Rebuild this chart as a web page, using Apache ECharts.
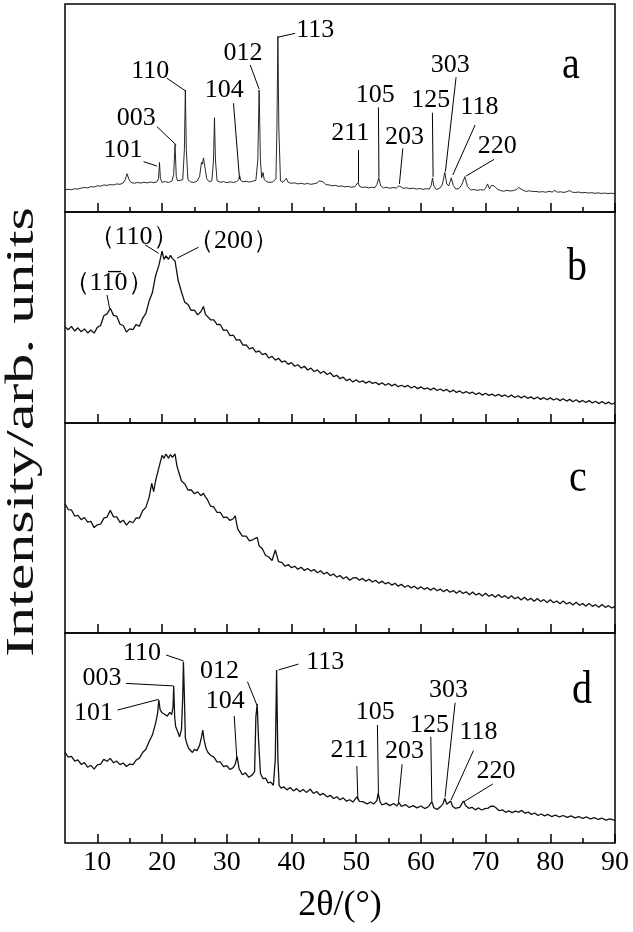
<!DOCTYPE html>
<html>
<head>
<meta charset="utf-8">
<script src="https://cdn.jsdelivr.net/npm/echarts@6/dist/echarts.min.js"></script>
<style>
html, body { margin: 0; padding: 0; background: #fff; }
#main { width: 633px; height: 932px; }
</style>
</head>
<body>
<div id="main"></div>
<script>
// x axis ticks
var xTicks = [10, 20, 30, 40, 50, 60, 70, 80, 90];
var xMinorTicks = [15, 25, 35, 45, 55, 65, 75, 85];
var panelLetters = ['a', 'b', 'c', 'd'];

// patterns, [2theta, intensity % of panel height]
var curveA = [[5,10.6],[5.5,10.9],[6,10.7],[6.5,11.2],[7,11.0],[7.5,11.5],[8,11.8],[8.5,11.6],[9,12.2],[9.5,12.0],[10,12.6],[10.5,12.4],[11,13.0],[11.5,12.8],[12,13.2],[12.5,13.0],[13,13.5],[13.5,13.3],[14,14.0],[14.3,15.5],[14.6,18.4],[14.9,15.5],[15.2,14.2],[15.7,13.8],[16.2,14.2],[16.7,13.9],[17.2,14.3],[17.7,14.0],[18.2,14.4],[18.7,14.1],[19.2,14.5],[19.45,16],[19.6,23.8],[19.75,16],[20.0,14.3],[20.5,14.6],[21.0,14.2],[21.5,14.8],[21.8,18],[22.0,32.4],[22.2,17],[22.4,15],[22.7,14.7],[23.2,15.5],[23.45,30],[23.6,58.6],[23.75,30],[24.0,15.5],[24.4,14.5],[24.9,14.2],[25.4,14.8],[25.8,17],[26.1,24],[26.25,23],[26.4,26],[26.6,22],[26.9,16],[27.3,14.5],[27.7,15],[27.95,25],[28.1,45.3],[28.25,25],[28.5,15],[29.0,14.3],[29.5,14.6],[30.0,14.1],[30.5,14.5],[31.0,14.2],[31.5,14.6],[31.85,15.5],[32.0,17.5],[32.15,15.2],[32.5,14.5],[33.0,14.8],[33.5,14.4],[34.0,14.8],[34.5,15.2],[34.8,25],[35.0,58.6],[35.2,25],[35.4,16.5],[35.6,19],[35.8,15.5],[36.2,14.5],[36.7,14.2],[37.2,14.6],[37.6,16],[37.75,40],[37.9,84.4],[38.05,40],[38.3,15],[38.7,14.3],[39.2,16.2],[39.5,14.2],[40.0,13.8],[40.5,14.0],[41.0,13.5],[41.5,13.8],[42.0,13.4],[42.5,13.7],[43.0,13.3],[43.5,13.6],[44.0,14.0],[44.3,15],[44.6,15.8],[44.9,14.5],[45.3,13.2],[45.8,13.0],[46.3,12.6],[46.8,12.8],[47.3,12.3],[47.8,12.5],[48.3,12.1],[48.8,12.3],[49.3,11.9],[49.8,12.2],[50.1,12.8],[50.3,14.2],[50.5,12.4],[50.9,11.8],[51.4,12.0],[51.9,11.6],[52.4,11.9],[52.9,11.7],[53.2,13.2],[53.5,16.3],[53.8,12.6],[54.2,11.6],[54.7,11.9],[55.2,11.4],[55.7,11.8],[56.2,11.5],[56.6,12.6],[56.9,12.2],[57.3,11.4],[57.8,11.6],[58.3,11.2],[58.8,11.5],[59.3,11.0],[59.8,11.3],[60.3,10.9],[60.8,11.2],[61.3,11.0],[61.6,12.8],[61.8,16.4],[62.0,12.5],[62.4,10.8],[62.9,11.4],[63.3,13.0],[63.7,19.0],[64.0,13.5],[64.3,12.5],[64.7,16.4],[65.0,12.8],[65.4,11.0],[65.9,11.3],[66.3,13.0],[66.8,17.0],[67.2,12.2],[67.7,10.6],[68.2,10.8],[68.7,10.4],[69.2,10.7],[69.7,10.5],[70.0,11.5],[70.3,13.5],[70.6,11.2],[70.9,12.8],[71.1,13.2],[71.3,12.6],[71.5,13.0],[71.8,11.0],[72.3,10.3],[72.8,10.0],[73.3,10.4],[73.8,10.1],[74.3,10.3],[74.8,10.8],[75.1,11.8],[75.4,12.0],[75.8,10.4],[76.3,9.9],[76.8,10.2],[77.3,9.8],[77.8,9.9],[78.3,9.6],[78.8,9.8],[79.3,9.5],[79.8,9.9],[80.3,9.6],[80.7,10.4],[81.1,9.5],[81.6,9.7],[82.1,9.4],[82.6,9.8],[83.0,10.3],[83.4,9.5],[83.9,9.4],[84.4,9.6],[84.9,9.2],[85.4,9.4],[85.9,9.1],[86.4,9.3],[86.9,9.0],[87.4,9.2],[87.9,8.9],[88.4,9.1],[88.9,8.9],[89.4,9.0],[90,8.9]];

var curveB = [[5,45.6],[5.5,44.2],[6,45.8],[6.5,43.6],[7,45.1],[7.5,43.2],[8,44.6],[8.5,42.7],[9,44.1],[9.5,42.6],[10,45.3],[10.5,46.2],[11,50.8],[11.5,51.7],[12,54.4],[12.5,51],[13,50.6],[13.5,46.8],[14,46.2],[14.5,43.1],[15,44.6],[15.5,44.3],[16,46.7],[16.5,45.8],[17,49.6],[17.5,52],[18,57.8],[18.5,61.7],[19,69.8],[19.5,74.6],[20,81.5],[20.3,77.5],[20.6,79.2],[21,77.6],[21.3,79.5],[21.6,77.9],[22,76.8],[22.5,67.4],[23,62.1],[23.5,57.3],[24,56.2],[24.5,53.4],[25,53.5],[25.5,51.3],[26,52.7],[26.4,55.2],[26.7,51.5],[27,51.1],[27.5,48.9],[28,48.9],[28.5,46.6],[29,46.7],[29.5,43.9],[30,44.1],[30.5,41.4],[31,41.7],[31.5,39.3],[32,39.5],[32.5,36.9],[33,37],[33.5,35.1],[34,35.7],[34.5,33.6],[35,34.2],[35.5,32.4],[36,33],[36.5,30.8],[37,31.6],[37.5,29.8],[38,30.7],[38.5,28.9],[39,29.4],[39.5,27.8],[40,28.6],[40.5,26.9],[41,27.6],[41.5,26],[42,26.9],[42.5,25.1],[43,26],[43.5,24.4],[44,25.2],[44.5,23.6],[45,24.5],[45.5,23],[46,23.8],[46.5,22],[47,22.6],[47.5,21],[48,21.7],[48.5,20.1],[49,20.8],[49.5,19.4],[50,20.5],[50.5,19.3],[51,20],[51.5,18.9],[52,19.8],[52.5,18.8],[53,19.3],[53.5,18.2],[54,19.1],[54.5,17.9],[55,18.7],[55.5,17.6],[56,18.4],[56.5,17.2],[57,17.9],[57.5,17.1],[58,17.8],[58.5,16.6],[59,17.4],[59.5,16.3],[60,17.1],[60.5,16.1],[61,16.6],[61.5,15.7],[62,16.6],[62.5,15.4],[63,16.1],[63.5,15.2],[64,15.9],[64.5,14.7],[65,15.6],[65.5,14.5],[66,15.2],[66.5,14.1],[67,14.9],[67.5,14],[68,14.6],[68.5,13.5],[69,14.3],[69.5,13.2],[70,14.1],[70.5,13.1],[71,13.7],[71.5,12.8],[72,13.6],[72.5,12.6],[73,13.3],[73.5,12.3],[74,13.2],[74.5,12.1],[75,12.9],[75.5,11.9],[76,12.8],[76.5,11.7],[77,12.4],[77.5,11.4],[78,12.3],[78.5,11.2],[79,12],[79.5,11],[80,11.9],[80.5,10.9],[81,11.6],[81.5,10.6],[82,11.5],[82.5,10.4],[83,11.2],[83.5,10.1],[84,11],[84.5,9.9],[85,10.7],[85.5,9.7],[86,10.6],[86.5,9.5],[87,10.3],[87.5,9.2],[88,10.2],[88.5,9.1],[89,9.9],[89.5,8.9],[90,9.6]];

var curveC = [[5,61.5],[5.5,58.8],[6,58.6],[6.5,55.7],[7,56],[7.5,54],[8,55],[8.5,52.8],[9,53.2],[9.5,50.2],[10,51.5],[10.5,51.8],[11,54.7],[11.5,55.2],[12,58.4],[12.5,55.3],[13,55.3],[13.5,52.7],[14,53.7],[14.5,51.4],[15,53.2],[15.5,52.5],[16,54.8],[16.5,54.7],[17,58.2],[17.5,59.8],[18,64.6],[18.4,71.3],[18.7,67.3],[19,72.5],[19.5,78.6],[20,84.6],[20.3,83.2],[20.6,85.2],[21,83.3],[21.3,85],[21.6,83.6],[22,85.3],[22.3,79.6],[22.6,76.4],[23,72.4],[23.5,71.1],[24,68.1],[24.5,68.2],[25,66.3],[25.5,67.2],[26,65.4],[26.4,66.5],[26.7,64.8],[27,63.6],[27.5,60.4],[28,60],[28.5,57.4],[29,57.4],[29.5,55],[30,55.2],[30.5,53.6],[31,54.4],[31.3,55.8],[31.7,49.5],[32,48.6],[32.4,46.1],[33,46.1],[33.5,43.9],[34,44.4],[34.7,45.5],[35,41.5],[35.5,40.1],[36,36.9],[36.5,36.2],[37,34.5],[37.5,39.5],[38,34],[38.5,33.6],[39,31.8],[39.5,32.6],[40,31.1],[40.5,31.8],[41,30.4],[41.5,31.3],[42,29.8],[42.5,30.7],[43,29.5],[43.5,30.2],[44,28.7],[44.5,29.6],[45,28.1],[45.5,28.9],[46,27.3],[46.5,28.1],[47,26.6],[47.5,27.4],[48,25.8],[48.5,26.8],[49,25.1],[49.5,26.2],[50,26.4],[50.5,25.1],[51,26],[51.5,24.7],[52,25.6],[52.5,24.3],[53,25.1],[53.5,23.7],[54,24.7],[54.5,23.4],[55,24.1],[55.5,22.8],[56,23.7],[56.5,22.3],[57,23.2],[57.5,21.8],[58,22.6],[58.5,21.5],[59,22.3],[59.5,21],[60,22],[60.5,20.8],[61,21.6],[61.5,20.4],[62,21.4],[62.5,20.1],[63,20.9],[63.5,19.6],[64,20.7],[64.5,19.4],[65,20.2],[65.5,18.9],[66,20.1],[66.5,18.8],[67,19.6],[67.5,18.2],[68,19.5],[68.5,18.1],[69,18.9],[69.5,17.6],[70,18.9],[70.5,17.5],[71,18.3],[71.5,17],[72,18.3],[72.5,16.9],[73,17.8],[73.5,16.4],[74,17.7],[74.5,16.3],[75,17.1],[75.5,15.7],[76,17],[76.5,15.6],[77,16.5],[77.5,15.1],[78,16.4],[78.5,15],[79,15.9],[79.5,14.5],[80,15.8],[80.5,14.4],[81,15.2],[81.5,13.9],[82,15.2],[82.5,13.8],[83,14.6],[83.5,13.3],[84,14.6],[84.5,13.2],[85,14],[85.5,12.8],[86,14.1],[86.5,12.7],[87,13.5],[87.5,12.3],[88,13.6],[88.5,12.2],[89,13],[89.5,11.9],[90,12.7]];

var curveD = [[5,43.2],[5.5,40.9],[6,41.3],[6.5,39],[7,39.6],[7.5,37.4],[8,38.3],[8.5,36.1],[9,37],[9.5,35.2],[10,37.2],[10.5,37.6],[11,39.8],[11.5,38.9],[12,40.3],[12.5,38.2],[13,39],[13.5,37.3],[14,38.1],[14.5,36.4],[15,37.6],[15.5,37.3],[16,39.5],[16.5,40.4],[17,43.1],[17.5,44.6],[18,48.3],[18.5,51.4],[19,57],[19.3,61.5],[19.5,68.1],[19.7,63.5],[20,62],[20.4,61.3],[20.8,60.4],[21.2,62.2],[21.5,61.2],[21.7,65],[21.8,74.8],[21.95,60],[22.1,55.5],[22.4,53.2],[22.7,50.6],[23.0,54],[23.2,70],[23.3,86.3],[23.45,70],[23.6,50],[23.8,47.6],[24.1,45.1],[24.4,44.2],[24.7,43.1],[25,44.6],[25.4,44],[25.8,46.5],[26.1,50.5],[26.3,53.8],[26.5,49],[26.8,45],[27.1,43.1],[27.5,41.8],[28,40.9],[28.5,38.6],[29,38.6],[29.5,36.4],[30,36.8],[30.5,35],[31,35.9],[31.3,37.5],[31.6,41.1],[31.9,35.5],[32.4,32.5],[32.9,33.4],[33.4,31.3],[33.9,32.3],[34.3,34],[34.5,60],[34.7,66.2],[34.9,50],[35.2,33.2],[35.6,30.6],[36,30.9],[36.4,28.6],[36.8,29],[37.2,27.4],[37.5,40],[37.7,82.4],[37.9,40],[38.1,27.4],[38.4,26.1],[38.8,26.8],[39.3,25.3],[39.8,26.4],[40.3,24.8],[40.8,25.9],[41.3,24.4],[41.8,25.5],[42.3,24.1],[42.9,25.6],[43.4,23.6],[43.9,24.5],[44.4,22.8],[44.9,23.6],[45.5,22],[46,22.7],[46.5,21.2],[47,22],[47.5,20.6],[48,21.5],[48.5,19.9],[49,20.6],[49.5,19.5],[50.1,22],[50.5,19.8],[51,19.7],[51.7,18.6],[52.2,19.5],[52.7,18.6],[53.2,20.2],[53.4,23.7],[53.7,19.5],[54,18.1],[54.6,19],[55.2,17.8],[55.8,18.8],[56.3,17.6],[56.6,19.2],[57,17.4],[57.6,18.3],[58.2,16.9],[58.8,17.8],[59.4,16.7],[60,17.6],[60.6,16.4],[61.2,17.4],[61.5,17.6],[61.7,19.7],[62,16.8],[62.5,16],[63,17.2],[63.4,18.5],[63.7,21.3],[64.0,18.4],[64.2,18.1],[64.6,20],[64.9,17.5],[65.3,16.5],[65.6,16],[66.0,17],[66.3,18.5],[66.6,20],[66.9,17.8],[67.4,16.5],[67.9,17],[68.4,15.8],[68.9,16.7],[69.4,15.7],[69.9,16.4],[70.4,16.6],[70.8,17.5],[71.2,17.6],[71.6,16.8],[72.1,15.4],[72.6,15.8],[73.1,14.6],[73.6,15.3],[74.1,14.5],[74.6,15.2],[75.1,14.7],[75.6,15.5],[76.1,14.2],[76.6,14.7],[77.1,13.6],[77.6,14.3],[78.1,13.1],[78.6,13.8],[79.1,12.9],[79.6,13.6],[80.2,12.6],[80.8,13.3],[81.4,12.4],[82,13.1],[82.6,12.2],[83.2,12.9],[83.8,12],[84.4,12.6],[85,11.7],[85.6,12.4],[86.2,11.5],[86.8,12.1],[87.4,11.2],[88,11.8],[88.6,10.9],[89.2,11.5],[90,10.8]];

// peak notes: [text, textX, textY, lineX1, lineY1, lineX2, lineY2]
var notesA = [
    ['101', 13.96, 29.8, 17.14, 24.2, 19.21, 22.1],
    ['003', 16.01, 45.0, 19.21, 41.0, 22.19, 32.2],
    ['110', 18.18, 67.5, 20.76, 64.3, 23.58, 58.3],
    ['104', 29.61, 58.7, 31.04, 52.3, 31.97, 16.0],
    ['012', 32.49, 76.3, 33.62, 70.7, 35.01, 59.0],
    ['113', 43.66, 87.5, 40.57, 85.9, 37.84, 84.0],
    ['211', 49.10, 38.0, 50.26, 29.8, 50.26, 14.4],
    ['105', 52.93, 56.3, 53.44, 50.3, 53.52, 16.5],
    ['203', 57.46, 36.2, 57.21, 30.6, 56.68, 13.5],
    ['125', 61.53, 53.8, 61.78, 47.7, 61.89, 16.9],
    ['303', 64.52, 70.7, 65.44, 64.8, 63.79, 19.4],
    ['118', 69.04, 50.6, 68.38, 41.8, 64.93, 17.8],
    ['220', 71.82, 31.7, 71.31, 25.3, 66.99, 17.3]
];
var notesB = [
    ['（110）', 15.60, 88.2, 17.40, 84.4, 19.46, 80.4],
    ['（200）', 31.04, 86.0, 25.64, 83.3, 22.30, 78.1],
    ['（11\u03050）', 11.73, 66.2, 11.49, 60.7, 11.89, 54.4]
];
var notesC = [];
var notesD = [
    ['110', 16.89, 90.3, 20.65, 89.5, 23.32, 86.7],
    ['003', 10.72, 78.4, 14.42, 76.0, 21.77, 74.8],
    ['101', 9.42, 61.8, 13.12, 63.3, 19.46, 68.4],
    ['012', 28.88, 81.6, 33.20, 76.8, 34.66, 65.7],
    ['104', 29.76, 67.3, 31.15, 60.5, 31.57, 39.5],
    ['113', 45.21, 86.3, 41.08, 85.2, 37.99, 82.4],
    ['211', 48.96, 44.3, 50.10, 36.7, 50.26, 20.8],
    ['105', 52.93, 62.5, 53.28, 56.2, 53.44, 23.7],
    ['203', 57.46, 43.5, 57.10, 37.5, 56.53, 19.2],
    ['125', 61.32, 56.2, 61.53, 50.6, 61.69, 19.7],
    ['303', 64.25, 72.9, 65.29, 66.8, 63.74, 22.0],
    ['118', 68.89, 53.0, 68.12, 44.0, 64.67, 20.5],
    ['220', 71.62, 34.4, 71.11, 28.1, 66.68, 19.7]
];

var curves = [curveA, curveB, curveC, curveD];
var notes = [notesA, notesB, notesC, notesD];

var serif = 'Liberation Serif';
var gridTops = [4, 212, 423, 633];
var gridHeights = [208, 211, 210, 210];
var letterPos = [[571, 66], [577, 268], [578, 479], [582, 691]];

var chart = echarts.init(document.getElementById('main'));

var grids = [], xAxes = [], yAxes = [], series = [], graphics = [];

for (var i = 0; i < 4; i++) {
    var last = (i === 3);
    grids.push({
        left: 65, right: 18, top: gridTops[i], height: gridHeights[i],
        show: true, borderColor: '#000', borderWidth: 1.5, backgroundColor: 'transparent'
    });
    // major ticks (+ labels on the bottom panel)
    xAxes.push({
        type: 'value', gridIndex: i, min: 5, max: 90, position: 'bottom',
        axisLine: { show: false },
        splitLine: { show: false },
        axisTick: { show: true, inside: true, length: 9, customValues: xTicks,
            lineStyle: { color: '#000', width: 1.5 } },
        axisLabel: { show: last, customValues: xTicks, margin: 6,
            fontSize: 28, fontFamily: serif, color: '#000' },
        name: last ? '2θ/(°)' : '',
        nameLocation: 'middle', nameGap: 45,
        nameTextStyle: { fontSize: 36, fontFamily: serif, color: '#000' }
    });
    // minor ticks
    xAxes.push({
        type: 'value', gridIndex: i, min: 5, max: 90, position: 'bottom',
        axisLine: { show: false },
        splitLine: { show: false },
        axisTick: { show: true, inside: true, length: 5, customValues: xMinorTicks,
            lineStyle: { color: '#000', width: 1.5 } },
        axisLabel: { show: false }
    });
    yAxes.push({
        type: 'value', gridIndex: i, min: 0, max: 100, show: false
    });

    var ml = [], mp = [];
    notes[i].forEach(function (n) {
        ml.push([{ coord: [n[3], n[4]] }, { coord: [n[5], n[6]] }]);
        mp.push({ coord: [n[1], n[2]], value: n[0] });
    });

    series.push({
        type: 'line',
        xAxisIndex: i * 2,
        yAxisIndex: i,
        data: curves[i],
        showSymbol: false,
        animation: false,
        silent: true,
        lineStyle: { color: '#111', width: i === 0 ? 0.9 : 1.3 },
        markLine: {
            silent: true,
            animation: false,
            symbol: ['none', 'none'],
            label: { show: false },
            lineStyle: { color: '#000', width: 1, type: 'solid' },
            data: ml
        },
        markPoint: {
            silent: true,
            animation: false,
            symbol: 'circle',
            symbolSize: 1,
            itemStyle: { color: 'rgba(0,0,0,0)' },
            label: {
                show: true, position: 'inside',
                formatter: function (p) { return p.value; },
                fontSize: 26, fontFamily: serif, color: '#000'
            },
            data: mp
        }
    });

    graphics.push({
        type: 'text',
        x: letterPos[i][0], y: letterPos[i][1],
        scaleY: 1.15,
        style: {
            text: panelLetters[i],
            font: '40px ' + serif,
            fill: '#000',
            align: 'center',
            verticalAlign: 'middle'
        }
    });
}

// y axis title, drawn as text so it can be stretched like the original
graphics.push({
    type: 'text',
    x: 22, y: 432,
    rotation: Math.PI / 2,
    scaleX: 1.5,
    style: {
        text: 'Intensity/arb. units',
        font: '40px ' + serif,
        fill: '#111',
        align: 'center',
        verticalAlign: 'middle'
    }
});

var option = {
    backgroundColor: '#fff',
    animation: false,
    grid: grids,
    xAxis: xAxes,
    yAxis: yAxes,
    series: series,
    graphic: graphics
};
chart.setOption(option);
</script>
</body>
</html>
